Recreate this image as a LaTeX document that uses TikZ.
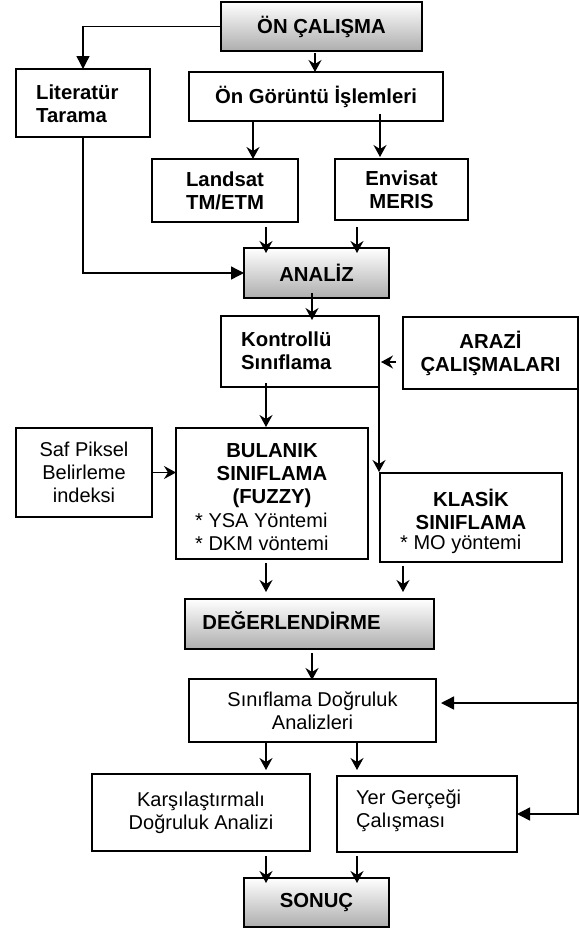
\documentclass[tikz,border=0pt]{standalone}
\usepackage{fontspec}
\setmainfont{Liberation Sans}
\usetikzlibrary{arrows.meta,calc}
\tikzset{
 box/.style={draw, line width=1.8pt, outer sep=0pt, inner sep=0pt, align=center},
 grad/.style={box, top color=white, bottom color=black!32},
 bt/.style={font=\fontsize{20.3}{23}\selectfont\bfseries, align=center, inner sep=0pt},
 rt/.style={font=\fontsize{20}{23}\selectfont, align=center, inner sep=0pt},
 sarr/.style={line width=1.4pt, -{Stealth[length=12pt,width=13pt,inset=4pt]}},
 barr/.style={line width=1.4pt, -{Triangle[length=13pt,width=13pt]}},
}
\begin{document}
\begin{tikzpicture}[x=1pt,y=-1pt]
\fill[white] (0,0) rectangle (579,932);
\useasboundingbox (0,0) rectangle (579,932);

\node[grad,bt,minimum width=201pt,minimum height=49pt] (on) at (321.5,26.5) {ÖN ÇALIŞMA};
\node[box,minimum width=134pt,minimum height=68pt] (lit) at (83,103) {};
\node[bt,align=left,anchor=west] (littxt) at (36,104) {Literatür\\Tarama};
\node[box,bt,minimum width=254pt,minimum height=49pt] (ong) at (316,96.5) {Ön Görüntü İşlemleri};
\node[box,bt,minimum width=146pt,minimum height=63pt] (land) at (225,190.5) {Landsat\\TM/ETM};
\node[box,bt,minimum width=133pt,minimum height=61pt] (env) at (401.5,189.5) {Envisat\\MERIS};
\node[grad,bt,minimum width=145pt,minimum height=50pt] (ana) at (316.5,273) {ANALİZ};
\node[box,minimum width=158pt,minimum height=71pt] (kon) at (300,351.5) {};
\node[bt,align=left,anchor=west] (kontxt) at (241,351) {Kontrollü\\Sınıflama};
\node[box,bt,minimum width=175pt,minimum height=72pt] (ara) at (490.5,353) {ARAZİ\\ÇALIŞMALARI};
\node[box,rt,minimum width=136pt,minimum height=89pt] (saf) at (84,472.5) {Saf Piksel\\Belirleme\\indeksi};
\node[box,minimum width=192pt,minimum height=131pt] (bul) at (272,493.5) {};
\node[bt] (bultxt) at (272,476) {BULANIK\\SINIFLAMA\\(FUZZY)};
\node[rt,align=left,anchor=west] (bullist) at (195,532) {* YSA Yöntemi\\* DKM vöntemi};
\node[box,minimum width=182pt,minimum height=89pt] (kla) at (471,517.5) {};
\node[bt] (klatxt) at (471,509) {KLASİK\\SINIFLAMA};
\node[rt,anchor=west] (klalist) at (400,544) {* MO yöntemi};
\node[grad,minimum width=249pt,minimum height=50pt] (deg) at (309.5,624) {};
\node[bt] (degtxt) at (291.5,621) {DEĞERLENDİRME};
\node[box,rt,minimum width=247pt,minimum height=63pt] (sda) at (312.5,710.5) {Sınıflama Doğruluk\\Analizleri};
\node[box,rt,minimum width=218pt,minimum height=77pt] (kar) at (201,812.5) {Karşılaştırmalı\\Doğruluk Analizi};
\node[box,minimum width=180pt,minimum height=76pt] (yer) at (427,814) {};
\node[rt,align=left,anchor=west] (yertxt) at (356,811) {Yer Gerçeği\\Çalışması};
\node[grad,bt,minimum width=145pt,minimum height=49pt] (son) at (316.5,902.5) {SONUÇ};

% connectors
\draw[barr] (on.west) -| (lit.north);
\draw[sarr] ($(on.south -| ong.north)+(-1,2)$) -- ($(ong.north)+(-1,0)$);
\draw[sarr] ($(ong.south -| land.north)+(28,0)$) -- ($(land.north)+(28,0)$);
\draw[sarr] ($(ong.south -| env.north)+(-21.5,-7)$) -- ($(env.north)+(-21.5,-2)$);
\draw[sarr] ($(land.south -| ana.north)+(-50.5,5)$) -- ($(ana.north)+(-50.5,5)$);
\draw[sarr] ($(env.south -| ana.north)+(40.5,7)$) -- ($(ana.north)+(40.5,5)$);
\draw[barr] (lit.south) |- (ana.west);
\draw[sarr] ($(ana.south -| kon.north)+(12,-5)$) -- ($(kon.north)+(12,4)$);
\draw[sarr] ($(ara.west)+(-7,9)$) -- ($(kon.east)+(2,10.5)$);
\draw[sarr] ($(kon.south -| bul.north)+(-6,-4)$) -- ($(bul.north)+(-6,-1)$);
\draw[sarr] (kon.south east) -- ($(kon.south east |- kla.north)+(0,-1)$);
\draw[sarr] (saf.east) -- (saf.east -| bul.west);
\draw[sarr] ($(bul.south -| deg.north)+(-43.5,4)$) -- ($(deg.north)+(-43.5,-7)$);
\draw[sarr] ($(kla.south -| deg.north)+(93.5,4)$) -- ($(deg.north)+(93.5,-7)$);
\draw[sarr] ($(deg.south -| sda.north)+(-0.5,4)$) -- ($(sda.north)+(-0.5,1)$);
\draw[sarr] ($(sda.south -| kar.north)+(65,1)$) -- ($(kar.north)+(65,-4)$);
\draw[sarr] ($(sda.south -| yer.north)+(-70,1)$) -- ($(yer.north)+(-70,-6)$);
\draw[sarr] ($(kar.south -| son.north)+(-50.5,5)$) -- ($(son.north)+(-50.5,5)$);
\draw[sarr] ($(yer.south -| son.north)+(40.5,4)$) -- ($(son.north)+(40.5,5)$);
\draw[barr] (ara.south east) |- (yer.east);
\draw[barr] ($(ara.south east |- sda.east)+(0,-7.5)$) -- ($(sda.east)+(5,-7.5)$);
\end{tikzpicture}
\end{document}
